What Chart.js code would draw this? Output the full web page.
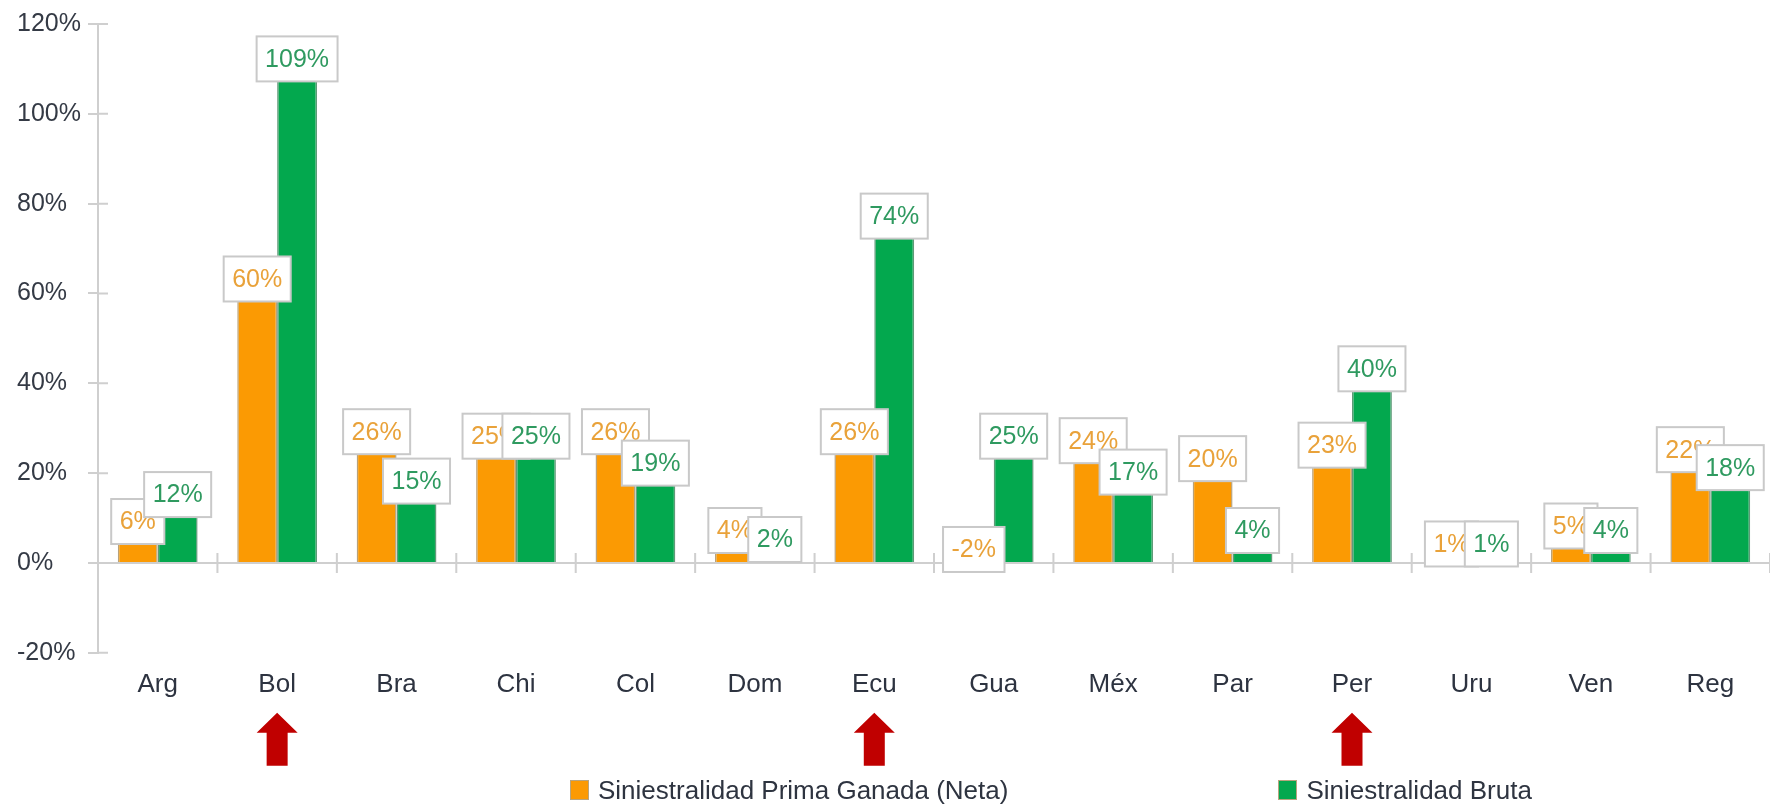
<!DOCTYPE html>
<html>
<head>
<meta charset="utf-8">
<script src="https://cdn.jsdelivr.net/npm/chart.js@4.4.1/dist/chart.umd.min.js"></script>
<style>
body{margin:0;background:#fff;}
#wrap{position:relative;width:1770px;height:804px;}
#legend{position:absolute;left:570px;top:775px;display:flex;font:26px "Liberation Sans",Arial,sans-serif;line-height:30px;color:#2e3440;}
.item{display:flex;align-items:center;}
.item + .item{margin-left:270px;}
.sw{width:17px;height:18px;margin-right:9px;border:1px solid #b8a47e;}
</style>
</head>
<body>
<div id="wrap">
<canvas id="chart"></canvas>
<div id="legend"></div>
</div>
<script>
const countries = ["Arg","Bol","Bra","Chi","Col","Dom","Ecu","Gua","Méx","Par","Per","Uru","Ven","Reg"];
const neta  = [6,60,26,25,26,4,26,-2,24,20,23,1,5,22];
const bruta = [12,109,15,25,19,2,74,25,17,4,40,1,4,18];
const seriesNames = ["Siniestralidad Prima Ganada (Neta)","Siniestralidad Bruta"];
const flagged = ["Bol","Ecu","Per"];

const FONT = "'Liberation Sans', Arial, sans-serif";

/* -----------------------------
   AXIS DECORATION
------------------------------ */
const axisMarks = {
id:"axisMarks",
beforeDatasetsDraw(chart){
const {ctx, scales:{x,y}, chartArea} = chart;
const y0 = y.getPixelForValue(0);
ctx.save();
ctx.strokeStyle="#cfcfcf";
ctx.lineWidth=2;
ctx.beginPath();
ctx.moveTo(chartArea.left,y0);
ctx.lineTo(chartArea.right,y0);
// inner half of the y ticks
y.ticks.forEach((t,i)=>{
let py=y.getPixelForTick(i);
ctx.moveTo(chartArea.left,py);
ctx.lineTo(chartArea.left+10,py);
});
// category separators on the zero line
let w = x.getPixelForTick(1)-x.getPixelForTick(0);
for(let i=0;i<countries.length;i++){
let px = x.getPixelForTick(i)+w/2;
ctx.moveTo(px,y0-10);
ctx.lineTo(px,y0+10);
}
ctx.stroke();
ctx.restore();
}
};

/* -----------------------------
   VALUE BOXES
------------------------------ */
const valueBoxes = {
id:"valueBoxes",
afterDatasetsDraw(chart){
const ctx=chart.ctx;
ctx.save();
ctx.font="25px "+FONT;
ctx.textAlign="center";
ctx.textBaseline="middle";
chart.data.datasets.forEach((ds,di)=>{
chart.getDatasetMeta(di).data.forEach((bar,i)=>{
let txt = ds.data[i]+"%";
let top = Math.min(bar.y,bar.base);
let w = ctx.measureText(txt).width+17;
let h = 45;
let bottom = top+8;
ctx.fillStyle="#fff";
ctx.fillRect(bar.x-w/2,bottom-h,w,h);
ctx.strokeStyle="#c9c9c9";
ctx.lineWidth=2;
ctx.strokeRect(bar.x-w/2,bottom-h,w,h);
ctx.fillStyle=ds.textColor;
ctx.fillText(txt,bar.x,bottom-h/2+1);
});
});
ctx.restore();
}
};

/* -----------------------------
   RED ARROWS
------------------------------ */
const arrows = {
id:"arrows",
afterDraw(chart){
const {ctx, scales:{x}, chartArea} = chart;
ctx.save();
ctx.fillStyle="#c00000";
flagged.forEach(name=>{
let cx = x.getPixelForValue(countries.indexOf(name));
let t = chartArea.bottom+60;
ctx.beginPath();
ctx.moveTo(cx,t);
ctx.lineTo(cx+20.5,t+20);
ctx.lineTo(cx+10.5,t+20);
ctx.lineTo(cx+10.5,t+53);
ctx.lineTo(cx-10.5,t+53);
ctx.lineTo(cx-10.5,t+20);
ctx.lineTo(cx-20.5,t+20);
ctx.closePath();
ctx.fill();
});
ctx.restore();
}
};

/* -----------------------------
   CHART
------------------------------ */
const chart = new Chart(document.getElementById("chart"),{
type:"bar",
data:{
labels:countries,
datasets:[{
label:seriesNames[0],
data:neta,
backgroundColor:"#fb9a03",
borderColor:"#b9a27a",
borderWidth:1.5,
textColor:"#e9a23a"
},{
label:seriesNames[1],
data:bruta,
backgroundColor:"#03a84e",
borderColor:"#5f9a78",
borderWidth:1.5,
textColor:"#2f9a60"
}]
},
options:{
responsive:true,
maintainAspectRatio:false,
animation:false,
datasets:{bar:{categoryPercentage:0.668,barPercentage:1}},
layout:{padding:{left:17,top:24,right:-5,bottom:96}},
plugins:{legend:{display:false},tooltip:{enabled:false}},
scales:{
x:{
grid:{display:false},
border:{display:false},
ticks:{padding:8,color:"#2d3340",font:{family:FONT,size:26}}
},
y:{
min:-20,max:120,
afterFit(scale){scale.width=81;},
border:{color:"#cfcfcf",width:2},
grid:{drawOnChartArea:false,tickLength:10,color:"#cfcfcf",lineWidth:2},
ticks:{stepSize:20,crossAlign:"far",color:"#343a45",font:{family:FONT,size:25},
callback:v=>v+"%"}
}
}
},
plugins:[axisMarks,valueBoxes,arrows]
});

/* -----------------------------
   LEGEND
------------------------------ */
chart.data.datasets.forEach(ds=>{
let item=document.createElement("div");
item.className="item";
let sw=document.createElement("span");
sw.className="sw";
sw.style.background=ds.backgroundColor;
item.appendChild(sw);
item.appendChild(document.createTextNode(ds.label));
document.getElementById("legend").appendChild(item);
});
</script>
</body>
</html>
